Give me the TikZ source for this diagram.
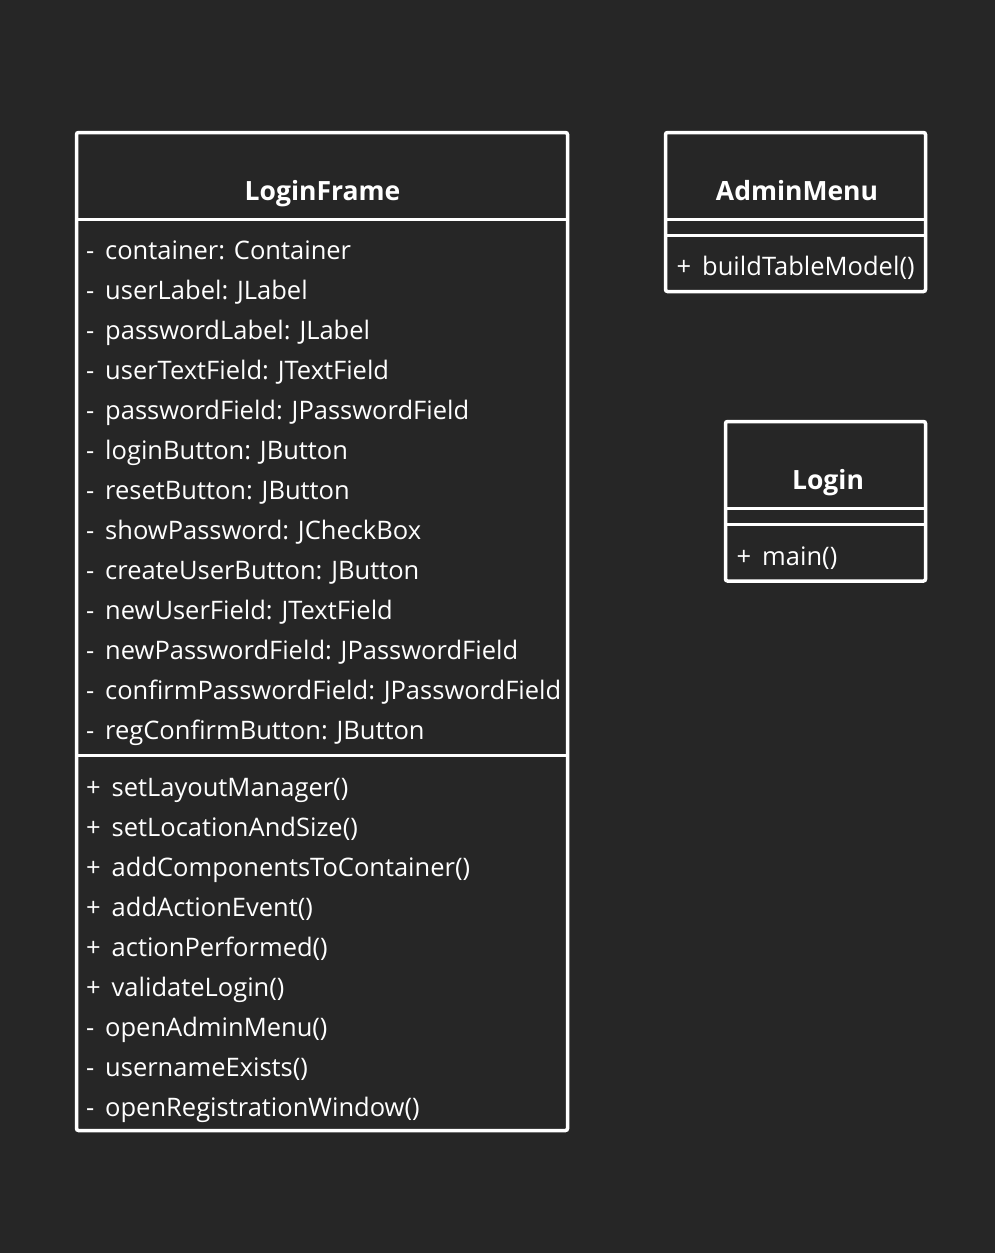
\documentclass[tikz,border=0pt]{standalone}
\usepackage{fontspec}
\setmainfont{Open Sans}
\definecolor{bgc}{HTML}{262626}
\newcommand\privmk{\makebox[19pt][l]{-}}
\newcommand\pubmk{\makebox[25.5pt][l]{+}}
\begin{document}
\begin{tikzpicture}[x=1pt,y=-1pt,
  classbox/.style={draw=white,line width=3.5pt,rounded corners=2pt,inner sep=0pt,outer sep=0pt,anchor=north west},
  sepline/.style={draw=white,line width=3.5pt},
  item/.style={anchor=base west,inner sep=0pt,text=white,font=\fontsize{25.5}{30}\selectfont},
  ctitle/.style={anchor=base,inner sep=0pt,text=white,font=\bfseries\fontsize{26.5}{30}\selectfont}]
\fill[bgc] (0,0) rectangle (995,1253);
\useasboundingbox (0,0) rectangle (995,1253);

% LoginFrame
\node[classbox,minimum width=491pt,minimum height=998pt] (lf) at (76.5,132.5) {};
\draw[sepline] (76.5,219.5) -- (567.5,219.5);
\draw[sepline] (76.5,755.5) -- (567.5,755.5);
\node[ctitle] (lft) at (322.5,200) {LoginFrame};
\foreach \t [count=\i from 0] in {
  {\privmk container: Container},
  {\privmk userLabel: JLabel},
  {\privmk passwordLabel: JLabel},
  {\privmk userTextField: JTextField},
  {\privmk passwordField: JPasswordField},
  {\privmk loginButton: JButton},
  {\privmk resetButton: JButton},
  {\privmk showPassword: JCheckBox},
  {\privmk createUserButton: JButton},
  {\privmk newUserField: JTextField},
  {\privmk newPasswordField: JPasswordField},
  {\privmk confirmPasswordField: JPasswordField},
  {\privmk regConfirmButton: JButton}}
  \node[item] (lfa\i) at (86,259+40*\i) {\t};
\foreach \t [count=\i from 0] in {
  {\pubmk setLayoutManager()},
  {\pubmk setLocationAndSize()},
  {\pubmk addComponentsToContainer()},
  {\pubmk addActionEvent()},
  {\pubmk actionPerformed()},
  {\pubmk validateLogin()},
  {\privmk openAdminMenu()},
  {\privmk usernameExists()},
  {\privmk openRegistrationWindow()}}
  \node[item] (lfm\i) at (86,796+40*\i) {\t};

% AdminMenu
\node[classbox,minimum width=260pt,minimum height=159pt] (am) at (665.5,132.5) {};
\draw[sepline] (665.5,219.5) -- (925.5,219.5);
\draw[sepline] (665.5,235.5) -- (925.5,235.5);
\node[ctitle] (amt) at (797,200) {AdminMenu};
\node[item] (amm) at (676.5,275) {\pubmk buildTableModel()};

% Login
\node[classbox,minimum width=200pt,minimum height=159.5pt] (lg) at (725.5,421.5) {};
\draw[sepline] (725.5,508.5) -- (925.5,508.5);
\draw[sepline] (725.5,524.5) -- (925.5,524.5);
\node[ctitle] (lgt) at (828,489) {Login};
\node[item] (lgm) at (736.5,565) {\pubmk main()};
\end{tikzpicture}
\end{document}
